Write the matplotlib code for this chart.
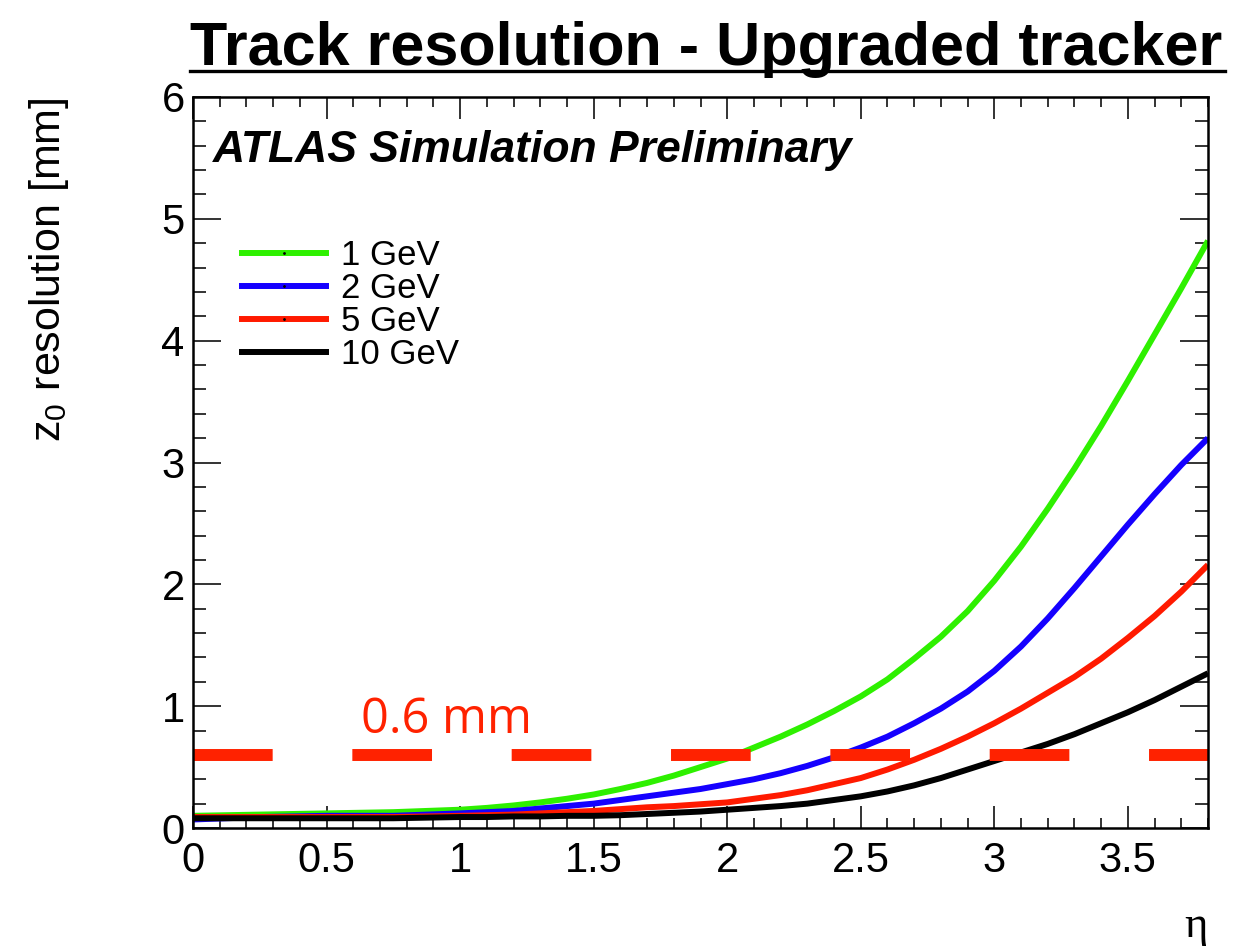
import numpy as np
import matplotlib
matplotlib.use("Agg")
import matplotlib.pyplot as plt
from matplotlib import font_manager
from matplotlib.lines import Line2D
from matplotlib.ticker import MultipleLocator

# values
eta = [0.0, 0.25, 0.5, 0.75, 1.0, 1.1, 1.2, 1.3, 1.4, 1.5, 1.6, 1.7, 1.8, 1.9, 2.0,
       2.1, 2.2, 2.3, 2.4, 2.5, 2.6, 2.7, 2.8, 2.9, 3.0, 3.1, 3.2, 3.3, 3.4, 3.5,
       3.6, 3.7, 3.8]
res_1gev = [0.10, 0.11, 0.12, 0.13, 0.15, 0.165, 0.185, 0.21, 0.24, 0.275, 0.32, 0.37,
            0.43, 0.50, 0.57, 0.66, 0.75, 0.85, 0.96, 1.08, 1.22, 1.39, 1.57, 1.78,
            2.03, 2.31, 2.62, 2.95, 3.30, 3.67, 4.05, 4.43, 4.82]
res_2gev = [0.07, 0.09, 0.10, 0.10, 0.12, 0.13, 0.14, 0.16, 0.18, 0.20, 0.23, 0.26,
            0.29, 0.32, 0.36, 0.40, 0.45, 0.51, 0.58, 0.66, 0.75, 0.86, 0.98, 1.12,
            1.29, 1.49, 1.72, 1.97, 2.23, 2.49, 2.74, 2.98, 3.20]
res_5gev = [0.09, 0.09, 0.09, 0.09, 0.10, 0.105, 0.11, 0.12, 0.13, 0.14, 0.155, 0.17,
            0.18, 0.195, 0.21, 0.24, 0.27, 0.31, 0.36, 0.41, 0.48, 0.56, 0.65, 0.75,
            0.86, 0.98, 1.11, 1.24, 1.39, 1.56, 1.74, 1.94, 2.16]
res_10gev = [0.08, 0.08, 0.08, 0.08, 0.09, 0.09, 0.095, 0.095, 0.10, 0.10, 0.105, 0.115,
             0.125, 0.135, 0.15, 0.165, 0.18, 0.20, 0.23, 0.26, 0.30, 0.35, 0.41, 0.48,
             0.55, 0.62, 0.69, 0.77, 0.86, 0.95, 1.05, 1.16, 1.27]
labels = ["1 GeV", "2 GeV", "5 GeV", "10 GeV"]
colors = ["#2ef000", "#1500ff", "#ff1a00", "#000000"]
threshold = 0.6

names = {f.name for f in font_manager.fontManager.ttflist}
sans = "Liberation Sans" if "Liberation Sans" in names else "DejaVu Sans"
narrow = "Liberation Sans Narrow" if "Liberation Sans Narrow" in names else sans

plt.rcParams["font.family"] = [sans, "DejaVu Sans"]
plt.rcParams["mathtext.fontset"] = "custom"
plt.rcParams["mathtext.rm"] = sans
plt.rcParams["mathtext.default"] = "regular"

fig = plt.figure(figsize=(12.36, 9.48), dpi=100)
ax = fig.add_axes([193 / 1236, 1 - 828 / 948, (1208 - 193) / 1236, (828 - 97) / 948])

series = [res_1gev, res_2gev, res_5gev, res_10gev]
for vals, c in zip(series, colors):
    ax.plot(eta, vals, color=c, lw=4.3, solid_capstyle="butt", solid_joinstyle="round")

ax.plot([0, 3.8], [threshold, threshold], color="#ff2200", lw=8.6,
        dashes=(6.67, 6.67), dash_capstyle="butt")
ax.text(0.63, 0.78, "0.6 mm", color="#ff2200", fontsize=35,
        family=["Open Sans", "DejaVu Sans"])

ax.set_xlim(0, 3.8)
ax.set_ylim(0, 6)
ax.xaxis.set_major_locator(MultipleLocator(0.5))
ax.xaxis.set_minor_locator(MultipleLocator(0.1))
ax.yaxis.set_major_locator(MultipleLocator(1))
ax.yaxis.set_minor_locator(MultipleLocator(0.2))
ax.xaxis.set_major_formatter(plt.FuncFormatter(lambda v, p: "%g" % v))
ax.tick_params(which="both", direction="in", top=True, right=True,
               color="#333333", width=1.4, labelsize=30)
ax.tick_params(axis="x", which="major", length=16, pad=9)
ax.tick_params(axis="x", which="minor", length=7)
ax.tick_params(axis="y", which="major", length=20, pad=6)
ax.tick_params(axis="y", which="minor", length=9.5)
for s in ax.spines.values():
    s.set_linewidth(1.8)

ax.set_ylabel("z$_0$ resolution [mm]", fontsize=31, loc="top")
ax.yaxis.set_label_coords(-0.12, 1.0)

ax.text(0.02, 0.927, "ATLAS Simulation Preliminary", transform=ax.transAxes,
        fontsize=32, fontweight="bold", fontstyle="italic", va="center")

handles = [Line2D([], [], color=c, lw=4.3, marker=".", markersize=2,
                  markerfacecolor="k", markeredgecolor="k") for c in colors]
handles[3] = Line2D([], [], color=colors[3], lw=4.3)
ax.legend(handles, labels, loc="upper left", bbox_to_anchor=(0.035, 0.825),
          frameon=False, fontsize=25, handlelength=2.4, handletextpad=0.45,
          labelspacing=0.0, borderaxespad=0, numpoints=1)

fig.text(1208 / 1236, 1 - 926 / 948, "\u03b7", fontsize=32, ha="right",
         va="center", family=["Liberation Serif", "DejaVu Serif"])

title = fig.text(190 / 1236, 1 - 65 / 948, "Track resolution - Upgraded tracker",
                 fontsize=44, fontweight="bold", family=[narrow, "DejaVu Sans"],
                 va="baseline")
fig.add_artist(Line2D([190 / 1236, 1225 / 1236], [1 - 71 / 948, 1 - 71 / 948],
                      color="black", lw=2.4, transform=fig.transFigure))

fig.savefig("out.png", dpi=100)
